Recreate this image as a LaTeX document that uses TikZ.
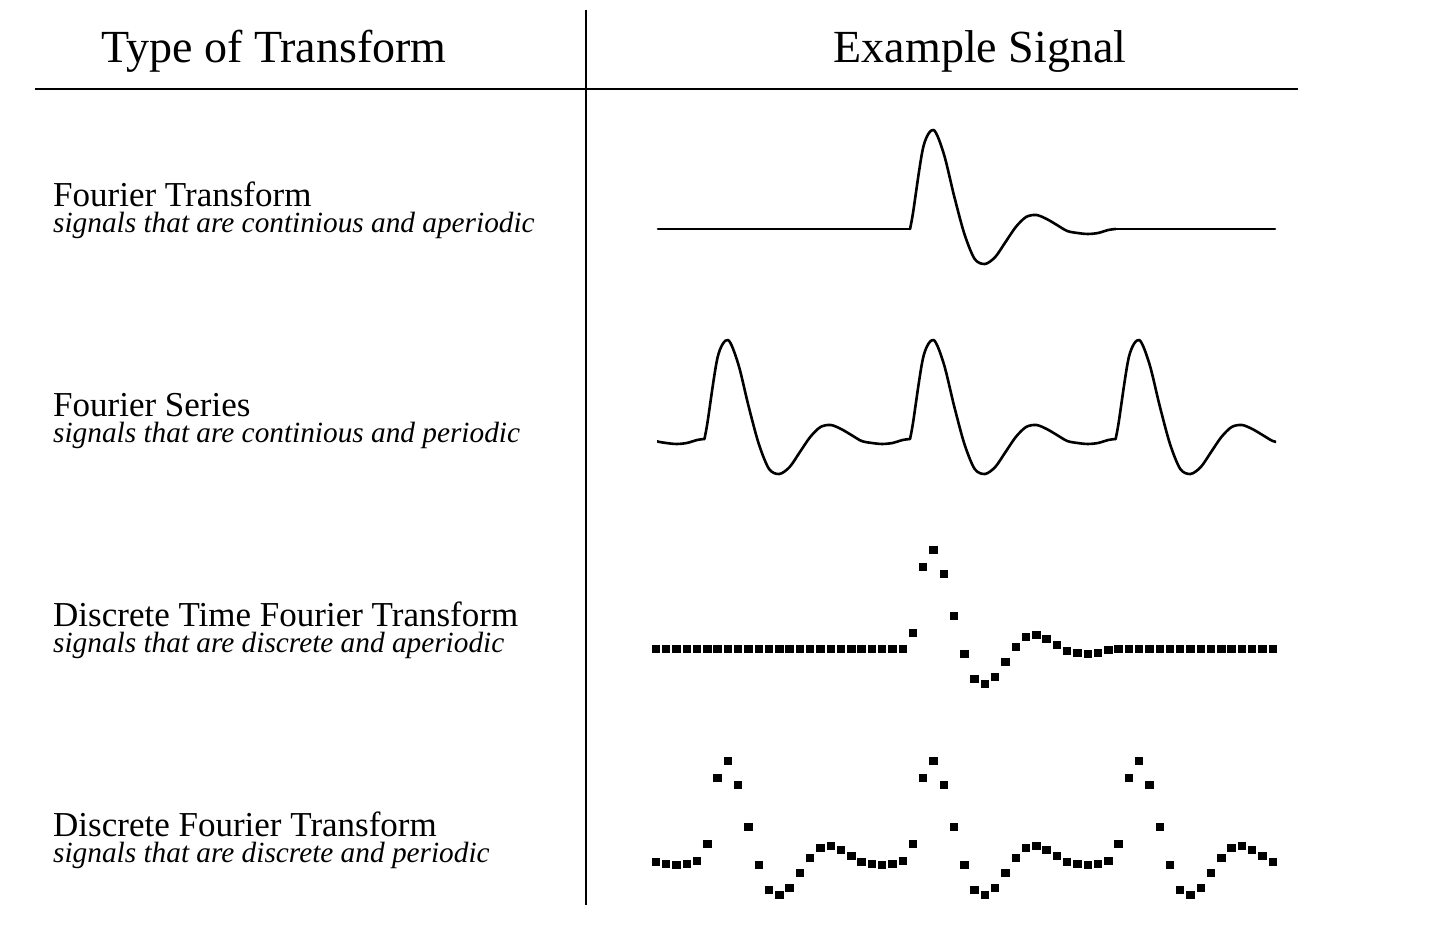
\documentclass[tikz,border=0pt]{standalone}
\usepackage{fontspec}
\setmainfont{Liberation Serif}

\tikzset{
  rule/.style={line width=1.8pt},
  wave/.style={line width=2.6pt, line cap=round, line join=round},
  sample/.style={fill=black},
  head/.style={font=\fontsize{46}{50}\selectfont, inner sep=0pt},
  kind/.style={font=\fontsize{35}{38}\selectfont, inner sep=0pt},
  sub/.style={font=\fontsize{29.3}{32}\selectfont\itshape, inner sep=0pt}
}

% one period of the signal, samples every 10.28
\def\pulsedata{16,82,99,75,33,-5,-30,-35,-28,-13,2,12,14,10,4,-2,-4,-5,-4,-1}
\newcommand\pulseat[2]{\draw[wave, shift={(#1,#2)}] plot[smooth] coordinates {(-3,0) (0,16) (10.28,82) (20.56,99) (30.84,75) (41.12,33) (51.4,-5) (61.68,-30) (71.96,-35) (82.24,-28) (92.52,-13) (102.8,2) (113.08,12) (123.36,14) (133.64,10) (143.92,4) (154.2,-2) (164.48,-4) (174.76,-5) (185.04,-4) (195.32,-1) (202.6,0)};}

\begin{document}
\begin{tikzpicture}[x=1pt, y=1pt]
\useasboundingbox (0,0) rectangle (1444,944);

% table rules
\draw[rule] (586,934) -- (586,39);
\draw[rule] (35,855) -- (1298,855);

\node[head, anchor=base] (typehead) at (274,881) {Type of Transform};
\node[head, anchor=base] (sighead) at (980,881) {Example Signal};

% row labels
\node[kind, anchor=base west] (ft) at (53,737) {Fourier Transform};
\node[sub, anchor=base west] (ftsub) at (53,711) {signals that are continious and aperiodic};
\node[kind, anchor=base west] (fs) at (53,527) {Fourier Series};
\node[sub, anchor=base west] (fssub) at (53,501) {signals that are continious and periodic};
\node[kind, anchor=base west] (dtft) at (53,317) {Discrete Time Fourier Transform};
\node[sub, anchor=base west] (dtftsub) at (53,291) {signals that are discrete and aperiodic};
\node[kind, anchor=base west] (dft) at (53,107) {Discrete Fourier Transform};
\node[sub, anchor=base west] (dftsub) at (53,81) {signals that are discrete and periodic};

% Fourier Transform
\draw[wave] (658,715) -- (910,715);
\pulseat{913}{715}
\draw[wave] (1115.6,715) -- (1275,715);

% Fourier Series
\begin{scope}
  \clip (657,400) rectangle (1276,640);
  \foreach \x in {501.8,707.4,913,1118.6} {\pulseat{\x}{505}}
\end{scope}

% Discrete Time Fourier Transform
\foreach \k in {0,...,24}
  \fill[sample] ({656+10.28*\k-4.2},290.8) rectangle +(8.4,8.4);
\foreach \v [count=\k from 0] in \pulsedata
  \fill[sample] ({913+10.28*\k-4.2},{290.8+\v}) rectangle +(8.4,8.4);
\foreach \k in {20,...,35}
  \fill[sample] ({913+10.28*\k-4.2},290.8) rectangle +(8.4,8.4);

% Discrete Fourier Transform
\foreach \p in {0,...,3}
  \foreach \v [count=\k from 0] in \pulsedata {
    \pgfmathtruncatemacro\n{20*\p+\k}
    \ifnum\n<15 \else\ifnum\n>75 \else
      \fill[sample] ({501.8+205.6*\p+10.28*\k-4.2},{79.8+\v}) rectangle +(8.4,8.4);
    \fi\fi
  }
\end{tikzpicture}
\end{document}
